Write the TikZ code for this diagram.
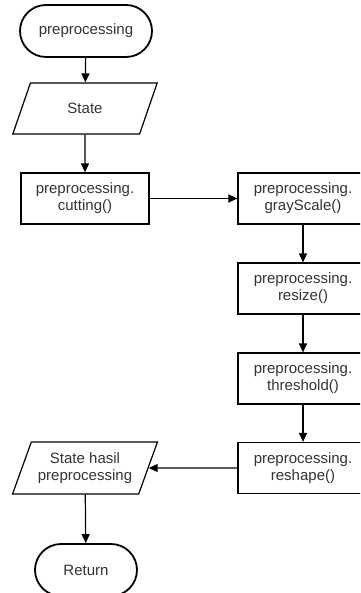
\documentclass[tikz,border=0pt]{standalone}
\usepackage{fontspec}
\setmainfont{Liberation Sans}
\usepackage{tikz}
\usetikzlibrary{arrows.meta,shapes.geometric}
\definecolor{ink}{HTML}{333333}

\begin{document}
\begin{tikzpicture}[x=1pt,y=-1pt,
  proc/.style={draw=black, line width=1.2pt, minimum width=130pt, minimum height=51pt, inner sep=0pt, align=center, text=ink, font=\fontsize{15}{17}\selectfont},
  term/.style={draw=black, line width=1.8pt, rounded corners=26pt, minimum height=52pt, inner sep=0pt, text=ink, font=\fontsize{15}{17}\selectfont},
  io/.style={draw=black, trapezium, trapezium left angle=62, trapezium right angle=118, trapezium stretches=true, minimum width=145pt, minimum height=51pt, line width=1.2pt, inner sep=0pt, align=center, text=ink, font=\fontsize{15}{17}\selectfont},
  flow/.style={-{Triangle[length=9pt,width=8pt]}, line width=1.2pt}]
  \clip (0,0) rectangle (360,593);
  % left column
  \node[term, minimum width=132pt] (start) at (86,31) {preprocessing};
  \node[io] (state) at (85,108.5) {State};
  \node[proc, minimum width=128pt] (cut) at (85,198.5) {preprocessing.\\cutting()};
  % right column
  \node[proc] (gray) at (303,198.5) {preprocessing.\\grayScale()};
  \node[proc] (resize) at (303,288.5) {preprocessing.\\resize()};
  \node[proc] (thresh) at (303,378.5) {preprocessing.\\threshold()};
  \node[proc] (reshape) at (303,468) {preprocessing.\\reshape()};
  % back to the left
  \node[io, minimum height=52pt] (out) at (85,468) {State hasil\\preprocessing};
  \node[term, minimum width=102pt] (ret) at (86,570) {Return};

  \draw[flow] (start) -- (state);
  \draw[flow] (state) -- (cut);
  \draw[flow] (cut) -- (gray);
  \draw[flow] (gray) -- (resize);
  \draw[flow] (resize) -- (thresh);
  \draw[flow] (thresh) -- (reshape);
  \draw[flow] (reshape) -- (out);
  \draw[flow] (out) -- (ret);
\end{tikzpicture}
\end{document}
